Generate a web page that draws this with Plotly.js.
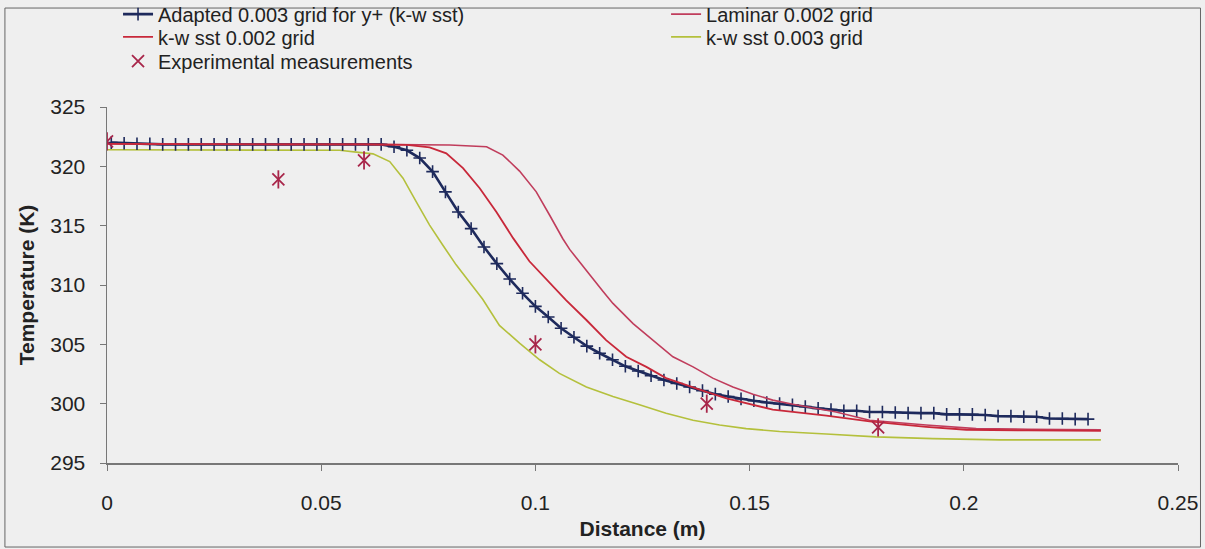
<!DOCTYPE html>
<html>
<head>
<meta charset="utf-8">
<script src="https://cdn.plot.ly/plotly-3.0.1.min.js"></script>
<style>html,body{margin:0;padding:0;background:#efefef;}#chart{width:1205px;height:549px;}</style>
</head>
<body>
<div id="chart"></div>
<script>
// Adapted 0.003 grid for y+ (k-w sst)
const adaptedX = [0.001,0.004,0.007,0.010,0.013,0.016,0.019,0.022,0.025,0.028,0.031,0.034,0.037,0.040,
  0.043,0.046,0.049,0.052,0.055,0.058,0.061,0.064,0.067,0.070,0.073,0.076,0.079,0.082,0.085,0.088,
  0.091,0.094,0.097,0.100,0.103,0.106,0.109,0.112,0.115,0.118,0.121,0.124,0.127,0.130,0.133,0.136,
  0.139,0.142,0.145,0.148,0.151,0.154,0.157,0.160,0.163,0.166,0.169,0.172,0.175,0.178,0.181,0.184,
  0.187,0.190,0.193,0.196,0.199,0.202,0.205,0.208,0.211,0.214,0.217,0.220,0.223,0.226,0.229];
const adaptedY = [322.0,321.95,321.9,321.9,321.85,321.85,321.85,321.85,321.85,321.85,321.85,321.85,321.85,321.85,
  321.85,321.85,321.85,321.85,321.85,321.85,321.85,321.85,321.65,321.35,320.7,319.55,317.85,316.15,314.75,313.2,
  311.8,310.5,309.3,308.2,307.3,306.35,305.6,304.85,304.25,303.7,303.15,302.75,302.35,302.0,301.7,301.4,
  301.1,300.8,300.6,300.4,300.25,300.1,300.0,299.9,299.75,299.6,299.5,299.4,299.4,299.3,299.3,299.25,
  299.2,299.2,299.2,299.1,299.1,299.1,299.05,298.95,298.95,298.9,298.9,298.75,298.75,298.7,298.7];

// Laminar 0.002 grid
const laminarX = [0,0.02,0.04,0.06,0.08,0.0886,0.0924,0.0963,0.1002,0.1033,0.1064,0.108,0.1111,0.1126,0.1158,
  0.1181,0.1228,0.1274,0.1321,0.1368,0.1414,0.1461,0.1508,0.1554,0.1601,0.1702,0.178,0.1912,0.2029,0.215,0.232];
const laminarY = [321.9,321.85,321.85,321.85,321.8,321.65,320.95,319.6,317.85,315.9,313.9,313.0,311.65,310.9,309.45,
  308.45,306.75,305.35,303.95,303.1,302.15,301.4,300.8,300.3,299.95,299.3,298.6,298.2,297.9,297.85,297.8];

// k-w sst 0.002 grid
const sst002X = [0,0.02,0.04,0.06,0.07,0.0753,0.0792,0.0831,0.087,0.0909,0.0948,0.0986,0.1025,0.1072,0.1119,
  0.1165,0.1212,0.1259,0.1305,0.1352,0.1399,0.1446,0.1492,0.1523,0.1554,0.1679,0.178,0.1912,0.2006,0.215,0.232];
const sst002Y = [321.9,321.85,321.85,321.85,321.8,321.6,321.1,319.85,318.15,316.15,313.95,312.0,310.5,308.7,307.05,
  305.35,303.95,303.1,302.15,301.55,301.0,300.45,300.05,299.75,299.5,299.0,298.5,298.05,297.8,297.75,297.7];

// k-w sst 0.003 grid
const sst003X = [0,0.02,0.04,0.0543,0.0582,0.0621,0.066,0.0691,0.0722,0.0753,0.0784,0.0815,0.0846,0.0877,0.0916,
  0.0963,0.101,0.1056,0.1119,0.1181,0.1243,0.1305,0.1368,0.143,0.1492,0.157,0.1679,0.1795,0.1928,0.2083,0.232];
const sst003Y = [321.4,321.4,321.4,321.35,321.2,321.05,320.4,319.0,317.0,315.05,313.35,311.7,310.25,308.8,306.6,
  305.1,303.7,302.55,301.4,300.6,299.9,299.2,298.6,298.2,297.9,297.65,297.45,297.2,297.05,296.95,296.95];

// Experimental measurements
const expX = [0, 0.04, 0.06, 0.10, 0.14, 0.18];
const expY = [322.1, 318.9, 320.5, 305.0, 300.0, 298.0];

const xTicks = [0, 0.05, 0.1, 0.15, 0.2, 0.25];
const xTickText = ['0', '0.05', '0.1', '0.15', '0.2', '0.25'];
const yTicks = [295, 300, 305, 310, 315, 320, 325];

const navy = '#1e2a5c', red = '#c8283a', pink = '#c03d5c', green = '#b4c03c', expCol = '#a8264a';

const traces = [
  {x: sst003X, y: sst003Y, type: 'scatter', mode: 'lines', name: 'k-w sst 0.003 grid', legend: 'legend4',
   line: {color: green, width: 1.6}},
  {x: adaptedX, y: adaptedY, type: 'scatter', mode: 'lines+markers', name: 'Adapted 0.003 grid for y+ (k-w sst)', legend: 'legend',
   line: {color: navy, width: 2.6}, marker: {symbol: 'cross-thin-open', size: 9, color: navy, line: {color: navy, width: 1.6}}},
  {x: laminarX, y: laminarY, type: 'scatter', mode: 'lines', name: 'Laminar 0.002 grid', legend: 'legend2',
   line: {color: pink, width: 1.6}},
  {x: sst002X, y: sst002Y, type: 'scatter', mode: 'lines', name: 'k-w sst 0.002 grid', legend: 'legend3',
   line: {color: red, width: 1.8}},
  {x: expX, y: expY, type: 'scatter', mode: 'markers', name: 'Experimental measurements', legend: 'legend5',
   marker: {symbol: 'x-thin-open', size: 12, color: expCol, line: {color: expCol, width: 1.8}}},
  {x: expX, y: expY, type: 'scatter', mode: 'markers', showlegend: false, hoverinfo: 'skip',
   marker: {symbol: 'line-ns-open', size: 13, color: expCol, line: {color: expCol, width: 1.8}}}
];

const fontFam = '"Liberation Sans", Arial, sans-serif';
const legFont = {family: fontFam, size: 20, color: '#222'};
function leg(xp, yp) {
  return {orientation: 'v', x: xp, xanchor: 'left', y: yp, yanchor: 'middle',
    bgcolor: 'rgba(0,0,0,0)', font: legFont};
}
const layout = {
  width: 1205, height: 549,
  paper_bgcolor: '#efefef', plot_bgcolor: '#efefef',
  margin: {l: 107, r: 27, t: 107, b: 86, autoexpand: false},
  font: {family: fontFam, size: 20, color: '#222'},
  showlegend: true,
  legend: leg(0.0103, 1.261),
  legend2: leg(0.522, 1.261),
  legend3: leg(0.0103, 1.197),
  legend4: leg(0.522, 1.197),
  legend5: leg(0.0103, 1.129),
  xaxis: {range: [0, 0.25], tickvals: xTicks, ticktext: xTickText, showgrid: false, zeroline: false,
    showline: true, linecolor: '#777', linewidth: 1.5, ticks: 'outside', ticklen: 6, tickcolor: '#777',
    ticklabelstandoff: 14, tickfont: {size: 21, color: '#222'},
    title: {text: '<b>Distance (m)</b>', font: {size: 21, color: '#222'}, standoff: 8}},
  yaxis: {range: [295, 325], tickvals: yTicks, showgrid: false, zeroline: false,
    showline: true, linecolor: '#777', linewidth: 1.5, ticks: 'outside', ticklen: 6, tickcolor: '#777',
    ticklabelstandoff: 10, tickfont: {size: 21, color: '#222'},
    title: {text: '<b>Temperature (K)</b>', font: {size: 21, color: '#222'}, standoff: 10}},
  shapes: [{type: 'rect', xref: 'paper', yref: 'paper', x0: -0.0953, x1: 1.021, y0: -0.236, y1: 1.278,
    line: {color: '#666', width: 1}, fillcolor: 'rgba(0,0,0,0)', layer: 'below'}]
};

Plotly.newPlot('chart', traces, layout, {displayModeBar: false, staticPlot: true});
</script>
</body>
</html>
